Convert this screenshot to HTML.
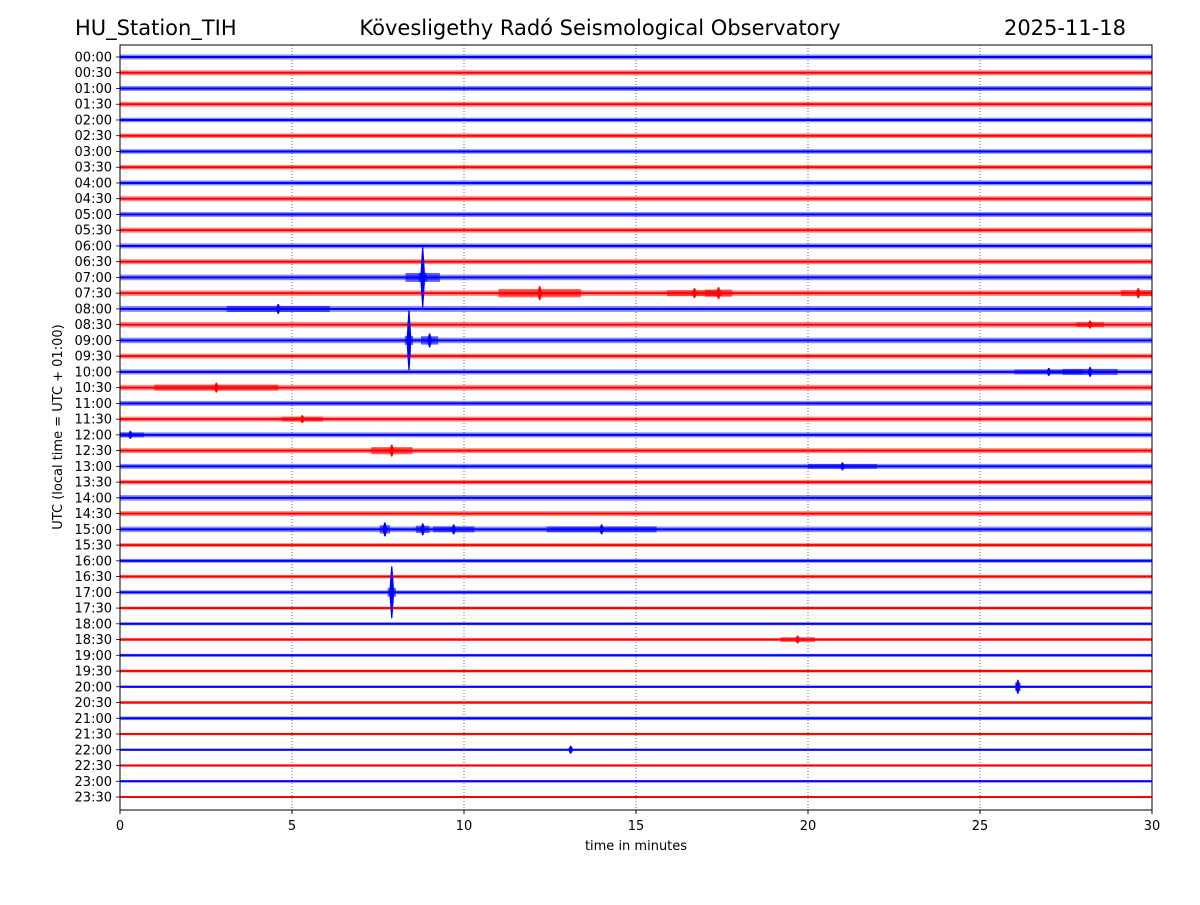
<!DOCTYPE html>
<html><head><meta charset="utf-8"><style>
body{margin:0;background:#fff;}
svg text{font-family:"DejaVu Sans","Liberation Sans",sans-serif;}
</style></head><body>
<svg id="chart" width="1200" height="900" viewBox="0 0 1200 900" xmlns="http://www.w3.org/2000/svg">
<rect width="1200" height="900" fill="#fff"/>
<defs><clipPath id="pc"><rect x="120" y="45" width="1032" height="765"/></clipPath></defs>
<text x="75" y="35" font-size="21">HU_Station_TIH</text>
<text x="600" y="35" font-size="21" text-anchor="middle">Kövesligethy Radó Seismological Observatory</text>
<text x="1126" y="35" font-size="21" text-anchor="end">2025-11-18</text>
<g id="grid"></g><g id="traces" clip-path="url(#pc)"></g><g id="axes"></g>
<text x="636" y="850" font-size="13" text-anchor="middle">time in minutes</text>
<text transform="translate(62,427) rotate(-90)" font-size="13" text-anchor="middle">UTC (local time = UTC + 01:00)</text>
</svg>
<script>
const rowLabels=[];for(let h=0;h<24;h++){const s=String(h).padStart(2,'0');rowLabels.push(s+':00');rowLabels.push(s+':30');}
const xTicks=[0,5,10,15,20,25,30];
const noiseAmp=[2.5,2.5,2.5,2.5,2.3,2.3,2.3,2.3,2.5,2.5,2.5,2.5,2.5,2.5,2.8,2.8,3,2.8,2.8,2.5,2.5,2.8,2.5,2.5,2.5,2.5,2.5,2.3,2.8,2.5,2.8,2,2,1.8,2,1.5,1.5,1.5,1.5,1.5,1.2,1.5,1.8,1.2,1,1.2,1.2,1];
const evRow=[14,14,15,15,15,15,16,17,18,18,20,20,21,23,24,25,26,30,30,30,30,34,37,40,44];
const evMin=[8.8,8.8,12.2,16.7,17.4,29.6,4.6,28.2,8.4,9.0,27,28.2,2.8,5.3,0.3,7.9,21,7.7,8.8,9.7,14,7.9,19.7,26.1,13.1];
const evWidth=[0.12,0.5,1.2,0.8,0.4,0.5,1.5,0.4,0.12,0.25,1,0.8,1.8,0.6,0.4,0.6,1,0.15,0.2,0.6,1.6,0.12,0.5,0.08,0.05];
const evAmp=[30,8,7,5,6,5,5,4,30,7,4,5,5,4,4,6,4,7,6,5,5,26,4,7,4];
const X0=120,X1=1152,Y0=45,Y1=810,R0=57,R1=797;
const xs=m=>X0+(X1-X0)*m/30;
const ys=r=>R0+(R1-R0)*r/47;
const NS='http://www.w3.org/2000/svg';
function mk(t,a,p){const e=document.createElementNS(NS,t);for(const k in a)e.setAttribute(k,a[k]);p.appendChild(e);return e;}
const grid=document.getElementById('grid'),tr=document.getElementById('traces'),ax=document.getElementById('axes');
xTicks.slice(1,-1).forEach(v=>{const l=mk('line',{x1:xs(v),x2:xs(v),y1:Y0,y2:Y1,stroke:'#000','stroke-width':0.6,'stroke-dasharray':'1,2'},grid);

});
rowLabels.forEach((lab,i)=>{const c=i%2?'#ff0000':'#0000ff';const y=ys(i);
const g=mk('g',{},tr);


mk('rect',{x:X0,y:y-noiseAmp[i],width:X1-X0,height:2*noiseAmp[i],fill:c,opacity:0.45},g);
mk('rect',{x:X0,y:y-1,width:X1-X0,height:2,fill:c},g);
const t=mk('text',{x:112,y:y+4.5,'font-size':13,'text-anchor':'end'},ax);t.textContent=lab;


mk('line',{x1:X0-4,x2:X0,y1:y,y2:y,stroke:'#000','stroke-width':0.8},ax);});
evMin.forEach((m,k)=>{const r=evRow[k];const c=r%2?'#ff0000':'#0000ff';const y=ys(r),x=xs(m),w=Math.max(1,(X1-X0)*evWidth[k]/30),a=evAmp[k];
const g=mk('g',{},tr);


const h=Math.min(a*0.6,4.5);
mk('rect',{x:x-w,y:y-h,width:2*w,height:2*h,fill:c,opacity:0.6},g);
mk('polygon',{points:`${x-2.5},${y} ${x-0.6},${y-a} ${x+0.6},${y-a} ${x+2.5},${y} ${x+0.6},${y+a} ${x-0.6},${y+a}`,fill:c},g);});
const fr=mk('rect',{x:X0,y:Y0,width:X1-X0,height:Y1-Y0,fill:'none',stroke:'#000','stroke-width':1},ax);


xTicks.forEach(v=>{mk('line',{x1:xs(v),x2:xs(v),y1:Y1,y2:Y1+4,stroke:'#000'},ax);
const t=mk('text',{x:xs(v),y:Y1+20,'font-size':13,'text-anchor':'middle'},ax);t.textContent=v;

});
</script>
</body></html>
